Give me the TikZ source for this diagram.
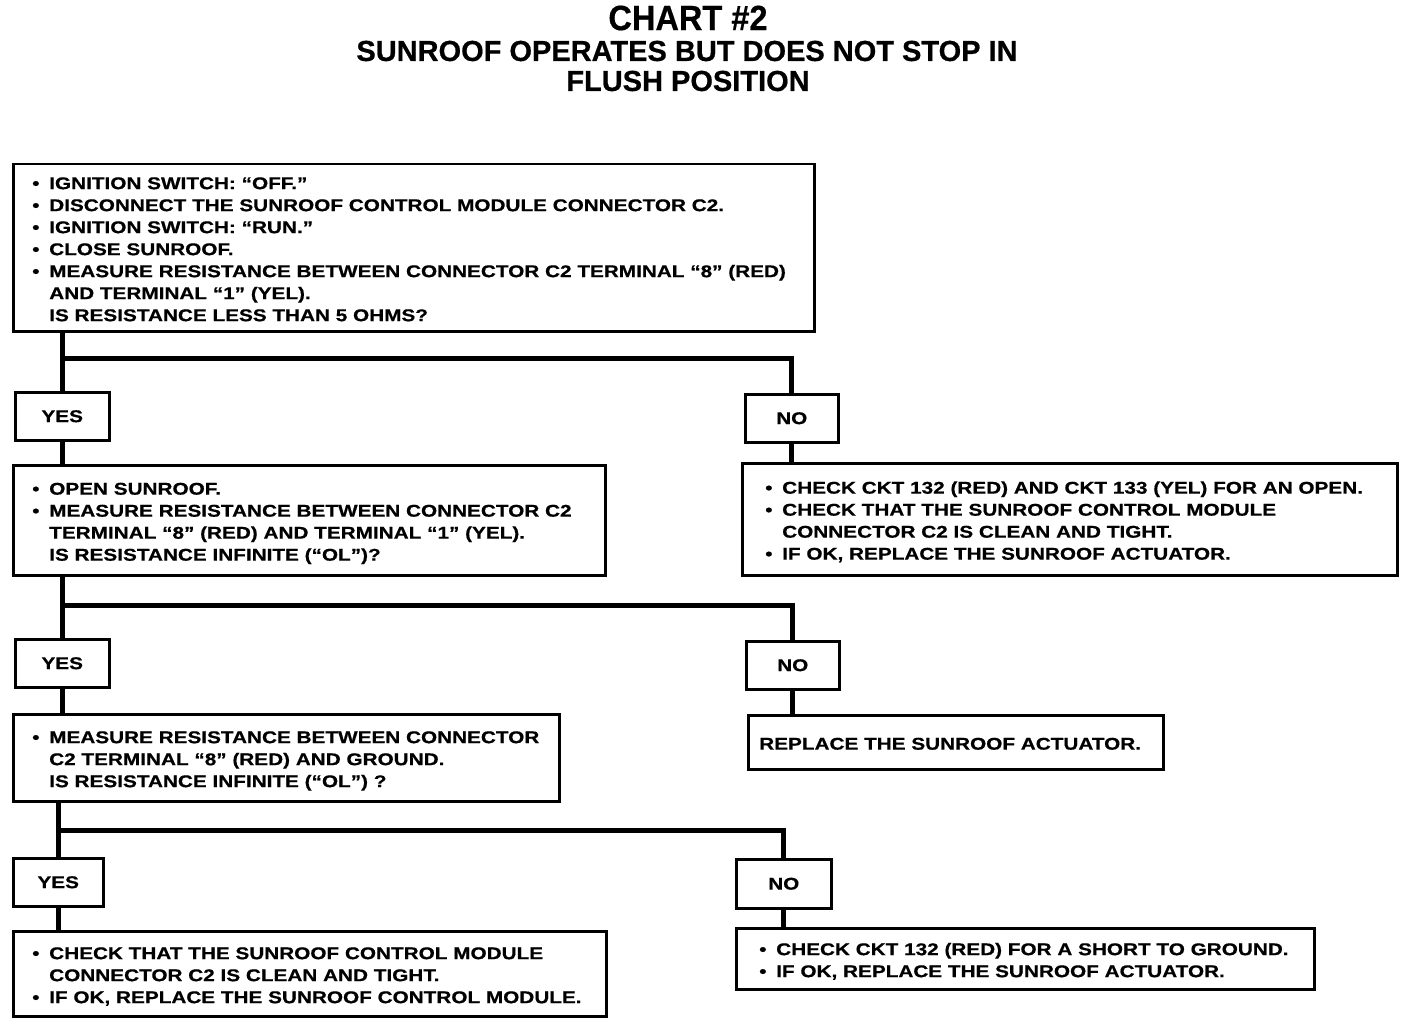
\documentclass[tikz,border=0pt]{standalone}
\usepackage{fontspec}
\setmainfont{Liberation Sans}
\newfontfamily\bodyfont[FakeStretch=1.22,FakeBold=0.6]{Liberation Sans}
\newfontfamily\titlefont[FakeStretch=0.93,FakeBold=0.5]{Liberation Sans}
\newfontfamily\subfont[FakeBold=0.6]{Liberation Sans}
\newcommand\bl{\makebox[17pt][l]{\textbullet}}
\newcommand\ind{\hspace*{17pt}}
\newcommand\boxtext[2]{\raisebox{-3pt}[\height][\depth]{\makebox[#1][l]{\begin{tabular}{@{}l@{}}#2\end{tabular}}}}
\begin{document}
\begin{tikzpicture}[x=1pt,y=-1pt,
  box/.style={draw, line width=2.5pt, fill=white, anchor=north west, inner ysep=0pt,
    font=\bodyfont\bfseries\fontsize{17}{22}\selectfont},
  lab/.style={draw, line width=2.5pt, fill=white, anchor=north west, inner sep=0pt,
    font=\bodyfont\bfseries\fontsize{17}{22}\selectfont},
  conn/.style={line width=5pt},
  ttl/.style={font=\titlefont\bfseries\fontsize{35}{40}\selectfont, inner sep=0pt},
  sub/.style={font=\subfont\bfseries\fontsize{29}{32}\selectfont, inner sep=0pt}]
\useasboundingbox (0,0) rectangle (1408,1024);
\fill[white] (0,0) rectangle (1408,1024);

% title
\node[ttl] (t1) at (688,18) {CHART \#2};
\node[sub] (t2) at (687,51) {SUNROOF OPERATES BUT DOES NOT STOP IN};
\node[sub] (t3) at (688,81) {FLUSH POSITION};

% boxes
\node[box, minimum width=801, minimum height=167, inner xsep=19pt] (b1) at (12,163)
  {\boxtext{763pt}{\bl IGNITION SWITCH: “OFF.”\\
   \bl DISCONNECT THE SUNROOF CONTROL MODULE CONNECTOR C2.\\
   \bl IGNITION SWITCH: “RUN.”\\
   \bl CLOSE SUNROOF.\\
   \bl MEASURE RESISTANCE BETWEEN CONNECTOR C2 TERMINAL “8” (RED)\\
   \ind AND TERMINAL “1” (YEL).\\
   \ind IS RESISTANCE LESS THAN 5 OHMS?}};

\node[lab, minimum width=94, minimum height=48] (yes1) at (14,391) {YES};
\node[lab, minimum width=93, minimum height=48] (no1) at (744,393) {NO};

\node[box, minimum width=592, minimum height=110, inner xsep=19pt] (b2) at (12,464)
  {\boxtext{554pt}{\bl OPEN SUNROOF.\\
   \bl MEASURE RESISTANCE BETWEEN CONNECTOR C2\\
   \ind TERMINAL “8” (RED) AND TERMINAL “1” (YEL).\\
   \ind IS RESISTANCE INFINITE (“OL”)?}};

\node[box, minimum width=655, minimum height=112, inner xsep=23pt] (r1) at (741,462)
  {\boxtext{609pt}{\bl CHECK CKT 132 (RED) AND CKT 133 (YEL) FOR AN OPEN.\\
   \bl CHECK THAT THE SUNROOF CONTROL MODULE\\
   \ind CONNECTOR C2 IS CLEAN AND TIGHT.\\
   \bl IF OK, REPLACE THE SUNROOF ACTUATOR.}};

\node[lab, minimum width=94, minimum height=48] (yes2) at (14,638) {YES};
\node[lab, minimum width=93, minimum height=48] (no2) at (745,640) {NO};

\node[box, minimum width=546, minimum height=87, inner xsep=19pt] (b3) at (12,713)
  {\boxtext{508pt}{\bl MEASURE RESISTANCE BETWEEN CONNECTOR\\
   \ind C2 TERMINAL “8” (RED) AND GROUND.\\
   \ind IS RESISTANCE INFINITE (“OL”) ?}};

\node[box, minimum width=415, minimum height=54, inner xsep=11pt] (r2) at (747,714)
  {\boxtext{393pt}{REPLACE THE SUNROOF ACTUATOR.}};

\node[lab, minimum width=90, minimum height=48] (yes3) at (12,857) {YES};
\node[lab, minimum width=95, minimum height=49] (no3) at (735,858) {NO};

\node[box, minimum width=593, minimum height=85, inner xsep=19pt] (b4) at (12,930)
  {\boxtext{555pt}{\bl CHECK THAT THE SUNROOF CONTROL MODULE\\
   \ind CONNECTOR C2 IS CLEAN AND TIGHT.\\
   \bl IF OK, REPLACE THE SUNROOF CONTROL MODULE.}};

\node[box, minimum width=578, minimum height=61, inner xsep=23pt] (r3) at (735,927)
  {\boxtext{532pt}{\bl CHECK CKT 132 (RED) FOR A SHORT TO GROUND.\\
   \bl IF OK, REPLACE THE SUNROOF ACTUATOR.}};

% junctions
\coordinate (j1) at (61,358);
\coordinate (j2) at (61,605);
\coordinate (j3) at (57,830);

% connectors
\draw[conn] (b1.south -| yes1.north) -- (yes1.north);
\draw[conn] (j1) -| (no1.north);
\draw[conn] (yes1.south) -- (yes1.south |- b2.north);
\draw[conn] (no1.south) -- (no1.south |- r1.north);
\draw[conn] (b2.south -| yes2.north) -- (yes2.north);
\draw[conn] (j2) -| (no2.north);
\draw[conn] (yes2.south) -- (yes2.south |- b3.north);
\draw[conn] (no2.south) -- (no2.south |- r2.north);
\draw[conn] (b3.south -| yes3.north) -- (yes3.north);
\draw[conn] (j3) -| (no3.north);
\draw[conn] (yes3.south) -- (yes3.south |- b4.north);
\draw[conn] (no3.south) -- (no3.south |- r3.north);
\end{tikzpicture}
\end{document}
